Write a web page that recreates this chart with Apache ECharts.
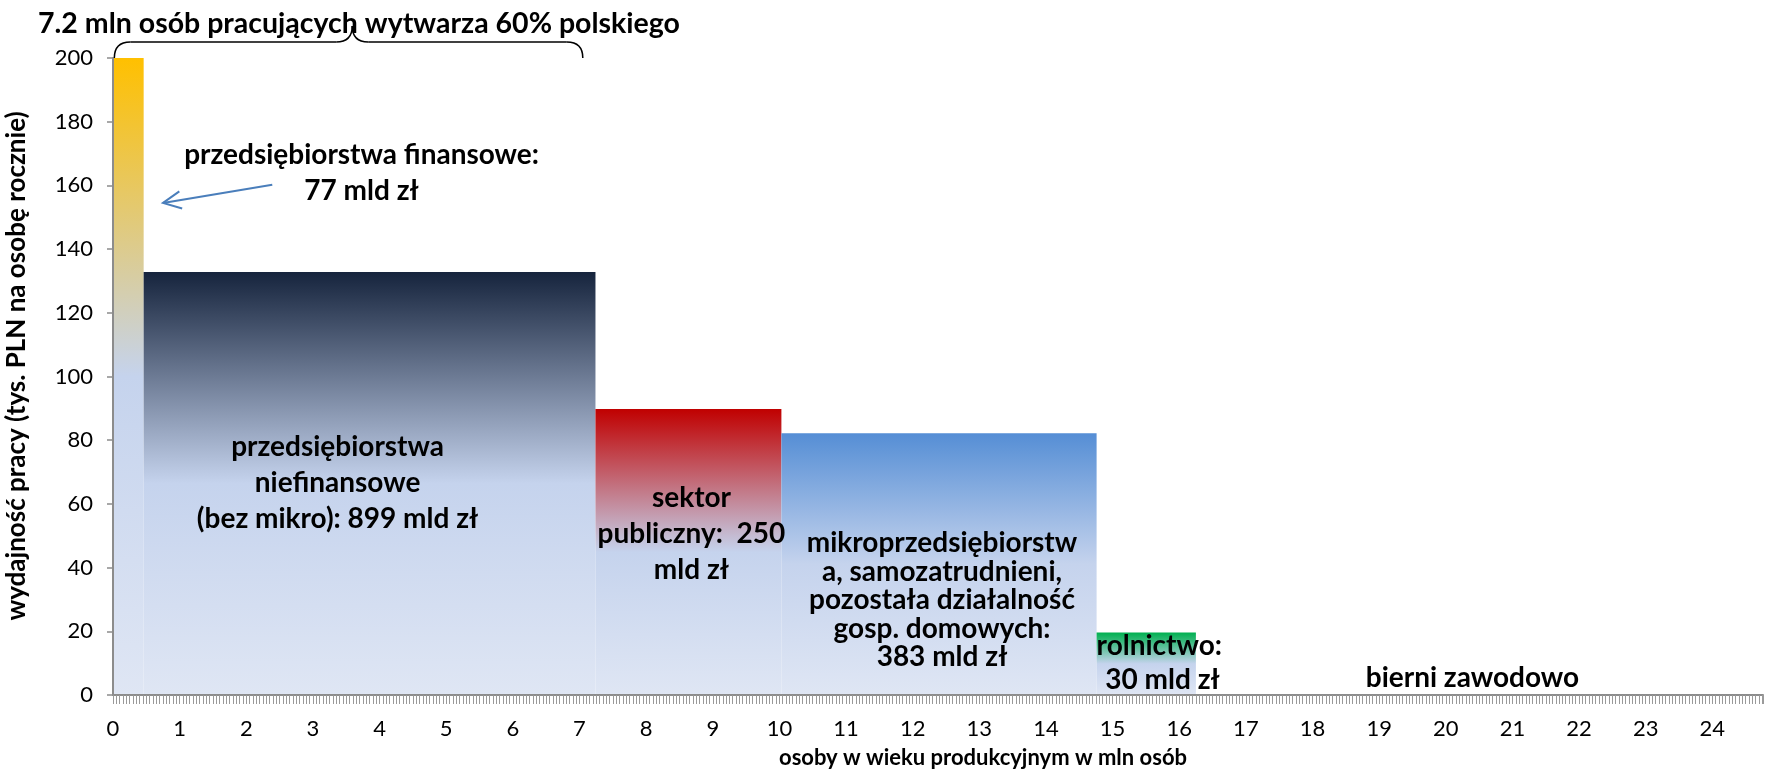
<!DOCTYPE html>
<html>
<head>
<meta charset="utf-8">
<script src="https://cdn.jsdelivr.net/npm/echarts@6/dist/echarts.min.js"></script>
<style>
  html, body { margin: 0; padding: 0; background: #fff; }
  #chart { width: 1770px; height: 771px; }
</style>
</head>
<body>
<div id="chart"></div>
<script>
// ---- data ----
const categories = [
  'przedsiębiorstwa finansowe',
  'przedsiębiorstwa niefinansowe (bez mikro)',
  'sektor publiczny',
  'mikroprzedsiębiorstwa, samozatrudnieni, pozostała działalność gosp. domowych',
  'rolnictwo',
  'bierni zawodowo'
];
const peopleStart = [0, 0.46, 7.24, 10.03, 14.76, 16.25];   // mln osób
const peopleEnd   = [0.46, 7.24, 10.03, 14.76, 16.25, 24.76]; // mln osób
const productivity = [200, 132.8, 89.8, 82.2, 19.6, 0];     // tys. PLN na osobę rocznie
const topColors = ['#ffc000', '#16243d', '#c00000', '#558ed5', '#00b050', '#c6d4ee'];
const xTickLabels = ['0','1','2','3','4','5','6','7','8','9','10','11','12','13','14','15','16','17','18','19','20','21','22','23','24'];
const yTicks = [0, 20, 40, 60, 80, 100, 120, 140, 160, 180, 200];

const titleText = '7.2 mln osób pracujących wytwarza 60% polskiego';
const yTitle = 'wydajność pracy (tys. PLN na osobę rocznie)';
const xTitle = 'osoby w wieku produkcyjnym w mln osób';

const FONT = 'Lato';
const chart = echarts.init(document.getElementById('chart'));

const seriesData = categories.map((c, i) => [peopleStart[i], peopleEnd[i], productivity[i], i]);

function gradientFor(color) {
  return new echarts.graphic.LinearGradient(0, 0, 0, 1, [
    { offset: 0, color: color },
    { offset: 0.5, color: '#c5d3ed' },
    { offset: 1, color: '#dfe6f4' }
  ]);
}

const option = {
  animation: false,
  backgroundColor: '#ffffff',
  grid: { left: 113, right: 7, top: 58, bottom: 76, containLabel: false, outerBoundsMode: 'none' },
  xAxis: {
    type: 'value',
    min: 0,
    max: peopleEnd[peopleEnd.length - 1],
    interval: 1,
    z: 10,
    axisLine: { show: true, lineStyle: { color: '#8c8c8c', width: 2 } },
    axisTick: { show: true, length: 9, lineStyle: { color: '#9a9a9a', width: 1 } },
    minorTick: { show: true, splitNumber: 20, length: 9, lineStyle: { color: '#9a9a9a', width: 1 } },
    splitLine: { show: false },
    axisLabel: {
      color: '#000', fontFamily: FONT, fontSize: 22, margin: 23,
      formatter: v => (Number.isInteger(v) && xTickLabels[v] !== undefined) ? xTickLabels[v] : ''
    }
  },
  yAxis: {
    type: 'value',
    min: 0,
    max: 200,
    interval: 20,
    z: 10,
    axisLine: { show: true, lineStyle: { color: '#8c8c8c', width: 2 } },
    axisTick: { show: true, length: 6, lineStyle: { color: '#8c8c8c', width: 1.5 } },
    splitLine: { show: false },
    axisLabel: { color: '#000', fontFamily: FONT, fontSize: 22, margin: 20,
      formatter: v => yTicks.indexOf(v) >= 0 ? String(v) : '' }
  },
  series: [{
    type: 'custom',
    name: 'wydajność',
    data: seriesData,
    encode: { x: [0, 1], y: 2 },
    z: 2,
    renderItem: function (params, api) {
      const x0 = api.value(0), x1 = api.value(1), v = api.value(2), idx = api.value(3);
      if (!(v > 0)) return null;
      const pTop = api.coord([x0, v]);
      const pBot = api.coord([x1, 0]);
      return {
        type: 'rect',
        shape: { x: pTop[0], y: pTop[1], width: pBot[0] - pTop[0], height: pBot[1] - pTop[1] },
        style: { fill: gradientFor(topColors[idx]) }
      };
    }
  }]
};
chart.setOption(option);

// ---- annotations positioned through the axes ----
const px = (x, y) => chart.convertToPixel({ gridIndex: 0 }, [x, y]);
const labelFont = 'bold 28px ' + FONT;

function textEl(txt, x, y, opts) {
  const p = px(x, y);
  return {
    type: 'text', x: p[0] + ((opts && opts.dx) || 0), y: p[1] + ((opts && opts.dy) || 0), z: 50,
    style: {
      text: txt, font: (opts && opts.font) || labelFont, fill: '#000',
      textAlign: (opts && opts.align) || 'center', textVerticalAlign: 'middle',
      lineHeight: (opts && opts.lh) || 36
    }
  };
}

// brace over 0 .. 7.05 mln
const bL = px(0.02, 200)[0], bR = px(7.05, 200)[0], bM = px(3.59, 200)[0];
const yEnd = 58, yH = 42, yTip = 26, r = 16;
const braceStyle = { fill: null, stroke: '#000', lineWidth: 1.5 };
function qCurve(x1, y1, cx, cy, x2, y2) {
  return { type: 'bezierCurve', z: 40, shape: { x1: x1, y1: y1, x2: x2, y2: y2, cpx1: cx, cpy1: cy }, style: braceStyle };
}
function seg(x1, y1, x2, y2, st) {
  return { type: 'line', z: 40, shape: { x1: x1, y1: y1, x2: x2, y2: y2 }, style: st || braceStyle };
}

// arrow
const aS = px(2.39, 160.2), aE = px(0.75, 154.5);
const ang = Math.atan2(aE[1] - aS[1], aE[0] - aS[0]);
const hl = 20, ha = 0.45;
const h1 = [aE[0] - hl * Math.cos(ang - ha), aE[1] - hl * Math.sin(ang - ha)];
const h2 = [aE[0] - hl * Math.cos(ang + ha), aE[1] - hl * Math.sin(ang + ha)];
const arrowStyle = { fill: null, stroke: '#4a7ebb', lineWidth: 2 };

chart.setOption({
  graphic: [
    qCurve(bL, yEnd, bL, yH, bL + r, yH),
    seg(bL + r, yH, bM - r, yH),
    qCurve(bM - r, yH, bM, yH, bM, yTip),
    qCurve(bM, yTip, bM, yH, bM + r, yH),
    seg(bM + r, yH, bR - r, yH),
    qCurve(bR - r, yH, bR, yH, bR, yEnd),
    { type: 'text', x: 359, y: 24, z: 45,
      style: { text: titleText, font: 'bold 28.5px ' + FONT, fill: '#000', textAlign: 'center', textVerticalAlign: 'middle' } },
    { type: 'text', x: 17, y: 366, rotation: Math.PI / 2, z: 45,
      style: { text: yTitle, font: 'bold 26px ' + FONT, fill: '#000', textAlign: 'center', textVerticalAlign: 'middle' } },
    { type: 'text', x: 983, y: 758, z: 45,
      style: { text: xTitle, font: 'bold 22px ' + FONT, fill: '#000', textAlign: 'center', textVerticalAlign: 'middle' } },
    seg(aS[0], aS[1], aE[0], aE[1], arrowStyle),
    { type: 'polyline', z: 40, shape: { points: [h1, aE, h2] }, style: arrowStyle },
    textEl('przedsiębiorstwa finansowe:\n77 mld zł', 3.73, 163.8),
    textEl('przedsiębiorstwa\nniefinansowe\n(bez mikro): 899 mld zł', 3.37, 66.5),
    textEl('sektor\npubliczny:  250\nmld zł', 8.68, 50.6),
    textEl('mikroprzedsiębiorstw\na, samozatrudnieni,\npozostała działalność\ngosp. domowych:\n383 mld zł', 12.44, 29.8, { lh: 28.5 }),
    textEl('rolnictwo:', 14.76, 15.3, { align: 'left' }),
    textEl('30 mld zł', 15.75, 4.6),
    textEl('bierni zawodowo', 20.4, 5.3)
  ]
});
</script>
</body>
</html>
